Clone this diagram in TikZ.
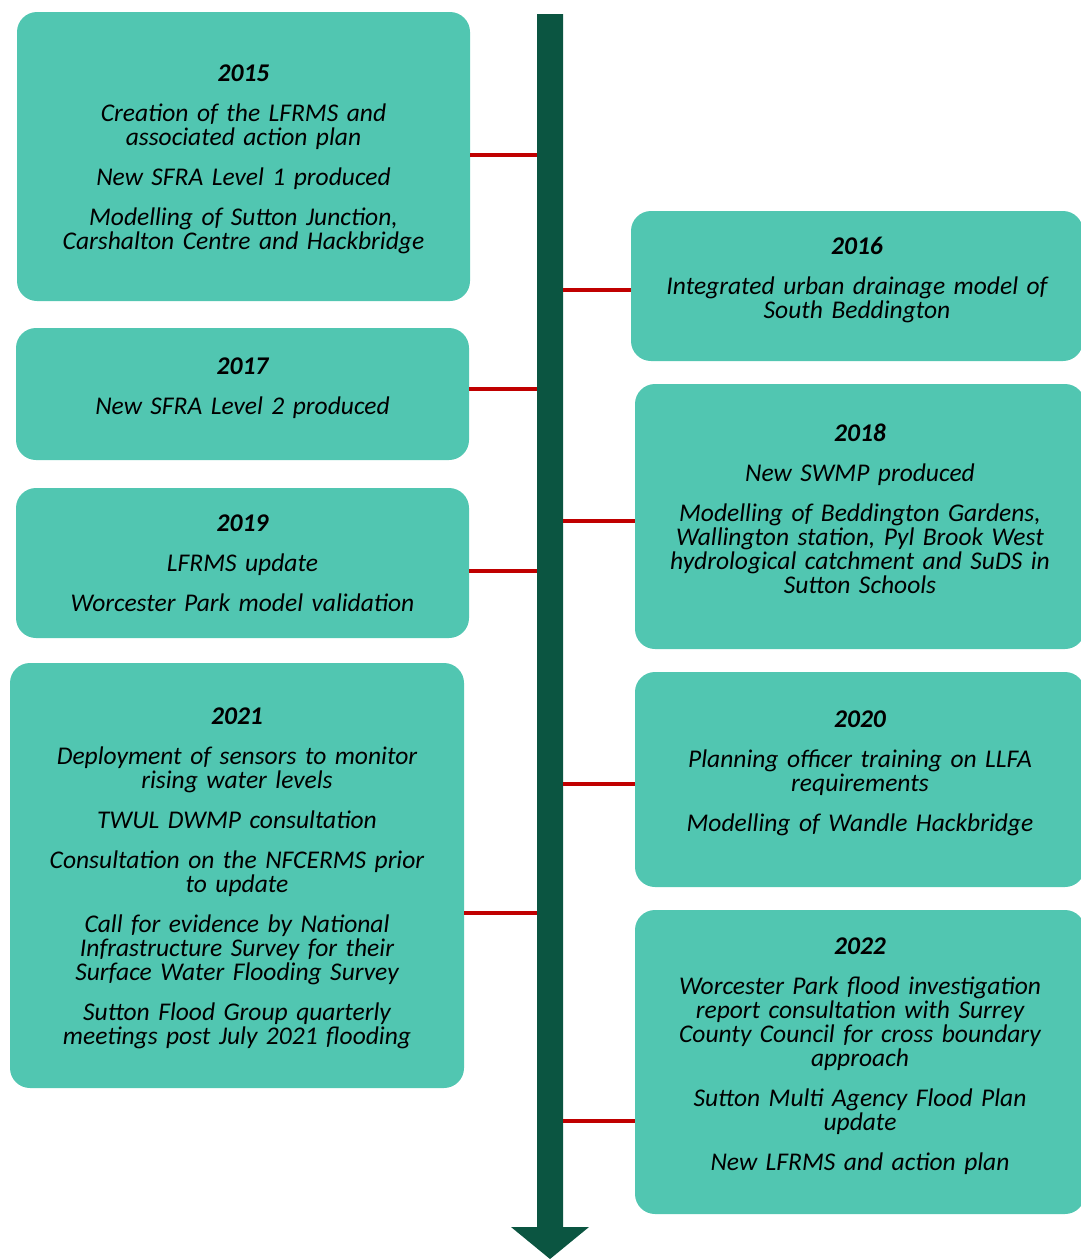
\documentclass[tikz,border=0pt]{standalone}
\usepackage{fontspec}
\setmainfont{Carlito}
\definecolor{boxteal}{HTML}{51C6B1}
\definecolor{axisgreen}{HTML}{0B5541}
\definecolor{connred}{HTML}{C00000}
\begin{document}
\begin{tikzpicture}[x=1pt,y=-1pt,
  tbox/.style={fill=boxteal, draw=none, rounded corners=20pt, inner sep=0pt,
    align=center, text width=#1, font=\fontsize{25.5}{24}\selectfont\itshape},
  textup/.style={execute at end node={\endgraf\vspace*{#1}}},
  conn/.style={draw=connred, line width=4pt}]
\useasboundingbox (0,0) rectangle (1080,1259);
% axis
\coordinate (axtop) at (550,14);
\coordinate (axbot) at (550,1259);
\fill[axisgreen] ([xshift=-13]axtop) -- ([xshift=13]axtop) -- (563,1227) -- (589,1227) -- (axbot) -- (511,1227) -- (537,1227) -- cycle;
\newcommand{\gap}{\\[16pt]}
% left boxes
\node[tbox=445pt, textup=-6pt, minimum width=453pt, minimum height=289pt] (b15) at (243.5,156.5)
 {\textbf{2015}\gap Creation of the LFRMS and\\ associated action plan\gap New SFRA Level 1 produced\gap Modelling of Sutton Junction,\\ Carshalton Centre and Hackbridge};
\node[tbox=445pt, textup=12pt, minimum width=453pt, minimum height=132pt] (b17) at (242.5,394)
 {\textbf{2017}\gap New SFRA Level 2 produced};
\node[tbox=445pt, minimum width=453pt, minimum height=150pt] (b19) at (242.5,563)
 {\textbf{2019}\gap LFRMS update\gap Worcester Park model validation};
\node[tbox=445pt, textup=-6pt, minimum width=454pt, minimum height=425pt] (b21) at (237,875.5)
 {\textbf{2021}\gap Deployment of sensors to monitor\\ rising water levels\gap TWUL DWMP consultation\gap Consultation on the NFCERMS prior\\ to update\gap Call for evidence by National\\ Infrastructure Survey for their\\ Surface Water Flooding Survey\gap Sutton Flood Group quarterly\\ meetings post July 2021 flooding};
% right boxes
\node[tbox=445pt, textup=12pt, minimum width=452pt, minimum height=150pt] (b16) at (857,286)
 {\textbf{2016}\gap Integrated urban drainage model of\\ South Beddington};
\node[tbox=445pt, textup=16pt, minimum width=450pt, minimum height=265pt] (b18) at (860,516.5)
 {\textbf{2018}\gap New SWMP produced\gap Modelling of Beddington Gardens,\\ Wallington station, Pyl Brook West\\ hydrological catchment and SuDS in\\ Sutton Schools};
\node[tbox=445pt, textup=12pt, minimum width=450pt, minimum height=215pt] (b20) at (860,779.5)
 {\textbf{2020}\gap Planning officer training on LLFA\\ requirements\gap Modelling of Wandle Hackbridge};
\node[tbox=445pt, textup=12pt, minimum width=450pt, minimum height=304pt] (b22) at (860,1062)
 {\textbf{2022}\gap Worcester Park flood investigation\\ report consultation with Surrey\\ County Council for cross boundary\\ approach\gap Sutton Multi Agency Flood Plan\\ update\gap New LFRMS and action plan};
% connectors
\coordinate (c15) at (537,155);
\coordinate (c17) at (537,389);
\coordinate (c19) at (537,571);
\coordinate (c21) at (537,913);
\coordinate (c16) at (563,290);
\coordinate (c18) at (563,521);
\coordinate (c20) at (563,784);
\coordinate (c22) at (563,1121);
\draw[conn] (b15.east |- c15) -- (c15);
\draw[conn] (b17.east |- c17) -- (c17);
\draw[conn] (b19.east |- c19) -- (c19);
\draw[conn] (b21.east |- c21) -- (c21);
\draw[conn] (c16) -- (b16.west |- c16);
\draw[conn] (c18) -- (b18.west |- c18);
\draw[conn] (c20) -- (b20.west |- c20);
\draw[conn] (c22) -- (b22.west |- c22);
\end{tikzpicture}
\end{document}
